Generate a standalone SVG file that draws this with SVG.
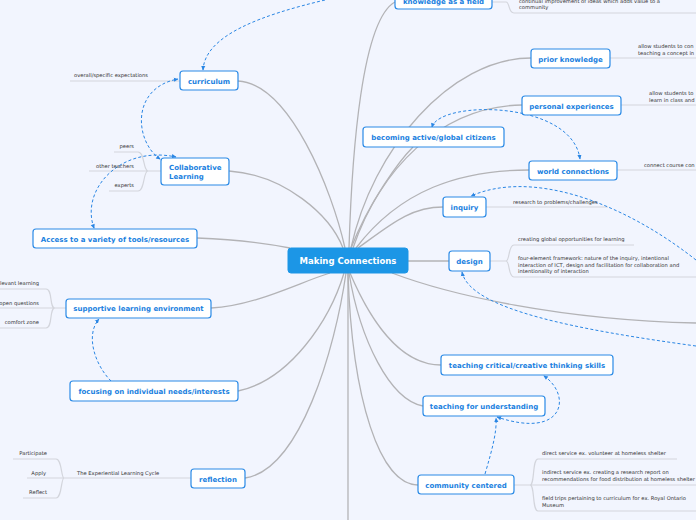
<svg xmlns="http://www.w3.org/2000/svg" width="696" height="520" viewBox="0 0 696 520">
<defs>
<style>
.bg{fill:#f2f5fe}
.node rect{fill:#ffffff;stroke:#2a8ae6;stroke-width:1.2}
.node text{font-family:"DejaVu Sans",Verdana,sans-serif;font-weight:bold;font-size:7px;fill:#1a7fe0;text-anchor:middle}
.root rect{fill:#1c96e6;stroke:#1c96e6}
.root text{font-family:"DejaVu Sans",Verdana,sans-serif;font-weight:bold;font-size:8.5px;fill:#ffffff;text-anchor:middle}
.main path{fill:none;stroke:#b3b3b6;stroke-width:1.3}
.leafline{fill:none;stroke:#d3d5dc;stroke-width:1.2}
.leaf{font-family:"DejaVu Sans",Verdana,sans-serif;font-size:5.2px;fill:#333333}
.rel{fill:none;stroke:#2a86e4;stroke-width:1;stroke-dasharray:3 2.2}
</style>
<marker id="ah" viewBox="0 0 6 6" refX="5" refY="3" markerWidth="5" markerHeight="5" orient="auto">
<path d="M0,0.5 L5.5,3 L0,5.5 Z" fill="#2a86e4"/>
</marker>
<marker id="at" viewBox="0 0 6 6" refX="1" refY="3" markerWidth="5" markerHeight="5" orient="auto">
<path d="M5.5,0.5 L0,3 L5.5,5.5 Z" fill="#2a86e4"/>
</marker>
</defs>
<rect class="bg" x="0" y="0" width="696" height="520"/>

<g id="connectors">
<g class="main">
<path d="M349 248 C352 150 362 20 395 2"/>
<path d="M238 81 C290 84 332 190 345 248"/>
<path d="M229 171 C285 175 330 215 343 248"/>
<path d="M197 238 Q250 240 290 248"/>
<path d="M211 308 C255 306 300 282 330 273"/>
<path d="M238 391 C290 380 330 320 344 273"/>
<path d="M245 478 C300 470 335 350 346 273"/>
<path d="M348 273 L348 520"/>
<path d="M351 248 C372 150 450 58 531 58"/>
<path d="M353 248 C380 170 440 106 522 105"/>
<path d="M351 248 C370 200 400 160 413 147"/>
<path d="M356 248 C400 190 460 170 529 170"/>
<path d="M358 248 C390 225 410 207 443 207"/>
<path d="M408 261 L449 261"/>
<path d="M392 273 C450 295 560 320 696 323"/>
<path d="M350 273 C370 320 400 365 441 365"/>
<path d="M349 273 C360 340 390 400 423 406"/>
<path d="M348 273 C352 400 380 485 418 485"/>
</g>
<g>
<path class="leafline" d="M180 81 L70 81"/>
<path class="leafline" d="M161 171 L148 171 C143 171 145 152 138 152 L114 152 M148 171 L89 171 M148 171 C143 171 145 191 138 191 L109 191"/>
<path class="leafline" d="M66 308 L55 308 C49 308 53 289 46 289 L0 289 M55 308 L0 308 M55 308 C49 308 53 328 46 328 L0 328"/>
<path class="leafline" d="M191 478 L64 478 C61 478 62 459 56 459 L13 459 M64 478 L27 478 M64 478 C61 478 62 498 56 498 L23 498"/>
<path class="leafline" d="M492 2 L506 2 C510 2 508 13 514 13 L696 13"/>
<path class="leafline" d="M610 58 L696 58"/>
<path class="leafline" d="M621 105 L696 105"/>
<path class="leafline" d="M617 170 L696 170"/>
<path class="leafline" d="M486 207 L608 207"/>
<path class="leafline" d="M490 261 L506 261 C510 261 508 245 514 245 L634 245 M506 261 C510 261 508 277 514 277 L696 277"/>
<path class="leafline" d="M514 485 L530 485 C535 485 532 459 538 459 L677 459 M530 485 L696 485 M530 485 C535 485 532 511 538 511 L696 511"/>
</g>
<g>
<path class="rel" d="M325 0 C262 15 205 35 203 70" marker-end="url(#ah)"/>
<path class="rel" d="M160 159 C135 142 130 88 178 79" marker-start="url(#at)" marker-end="url(#ah)"/>
<path class="rel" d="M94 228 C80 190 120 145 176 157" marker-start="url(#at)" marker-end="url(#ah)"/>
<path class="rel" d="M111 381 C95 365 85 335 99 319" marker-end="url(#ah)"/>
<path class="rel" d="M432 127 C440 100 572 100 580 159" marker-start="url(#at)" marker-end="url(#ah)"/>
<path class="rel" d="M696 260 C620 200 530 170 471 196" marker-end="url(#ah)"/>
<path class="rel" d="M696 346 C580 330 470 310 462 272" marker-end="url(#ah)"/>
<path class="rel" d="M544 376 C572 395 565 440 497 417" marker-start="url(#at)" marker-end="url(#ah)"/>
<path class="rel" d="M485 474 C492 450 497 432 496 418" marker-end="url(#ah)"/>
</g>
</g>

<g id="leaves">
<text class="leaf" x="74" y="77">overall/specific expectations</text>
<text class="leaf" x="134" y="148" text-anchor="end">peers</text>
<text class="leaf" x="134" y="168" text-anchor="end">other teachers</text>
<text class="leaf" x="134" y="187" text-anchor="end">experts</text>
<text class="leaf" x="39" y="285" text-anchor="end">relevant learning</text>
<text class="leaf" x="39" y="305" text-anchor="end">open questions</text>
<text class="leaf" x="39" y="324" text-anchor="end">comfort zone</text>
<text class="leaf" x="47" y="455" text-anchor="end">Participate</text>
<text class="leaf" x="46" y="475" text-anchor="end">Apply</text>
<text class="leaf" x="47" y="494" text-anchor="end">Reflect</text>
<text class="leaf" x="77" y="475">The Experiential Learning Cycle</text>
<text class="leaf" x="519" y="3">continual improvement of ideas which adds value to a</text>
<text class="leaf" x="519" y="9">community</text>
<text class="leaf" x="638" y="48">allow students to con</text>
<text class="leaf" x="638" y="55">teaching a concept in</text>
<text class="leaf" x="649" y="95">allow students to</text>
<text class="leaf" x="649" y="102">learn in class and</text>
<text class="leaf" x="644" y="167">connect course con</text>
<text class="leaf" x="513" y="204">research to problems/challenges</text>
<text class="leaf" x="518" y="241">creating global opportunities for learning</text>
<text class="leaf" x="518" y="260">four-element framework: nature of the inquiry, intentional</text>
<text class="leaf" x="518" y="267">interaction of ICT, design and facilitation for collaboration and</text>
<text class="leaf" x="518" y="273">intentionality of interaction</text>
<text class="leaf" x="542" y="455">direct service ex. volunteer at homeless shelter</text>
<text class="leaf" x="542" y="474">indirect service ex. creating a research report on</text>
<text class="leaf" x="542" y="481">recommendations for food distribution at homeless shelter</text>
<text class="leaf" x="542" y="500">field trips pertaining to curriculum for ex. Royal Ontario</text>
<text class="leaf" x="542" y="507">Museum</text>
</g>

<g id="n-root" class="root"><rect x="288" y="248" width="120" height="25" rx="3"/><text x="348" y="264">Making Connections</text></g>
<g id="n-knowledge" class="node"><rect x="395" y="-6" width="97" height="15" rx="3"/><text x="443.5" y="3.5">knowledge as a field</text></g>
<g id="n-curriculum" class="node"><rect x="180" y="71" width="58" height="19" rx="3"/><text x="209" y="83.5">curriculum</text></g>
<g id="n-collab" class="node"><rect x="161" y="158" width="68" height="27" rx="3"/><text x="169" y="169.5" text-anchor="start" style="text-anchor:start">Collaborative</text><text x="169" y="178.5" style="text-anchor:start">Learning</text></g>
<g id="n-access" class="node"><rect x="33" y="229" width="164" height="19" rx="3"/><text x="115" y="241.5">Access to a variety of tools/resources</text></g>
<g id="n-supportive" class="node"><rect x="66" y="299" width="145" height="19" rx="3"/><text x="138.5" y="311">supportive learning environment</text></g>
<g id="n-focusing" class="node"><rect x="70" y="381" width="168" height="20" rx="3"/><text x="154" y="394">focusing on individual needs/interests</text></g>
<g id="n-reflection" class="node"><rect x="191" y="469" width="54" height="19" rx="3"/><text x="218" y="481.5">reflection</text></g>
<g id="n-prior" class="node"><rect x="531" y="49" width="79" height="19" rx="3"/><text x="570.5" y="61.5">prior knowledge</text></g>
<g id="n-personal" class="node"><rect x="522" y="96" width="99" height="19" rx="3"/><text x="571.5" y="108.5">personal experiences</text></g>
<g id="n-becoming" class="node"><rect x="363" y="127" width="141" height="20" rx="3"/><text x="433.5" y="140">becoming active/global citizens</text></g>
<g id="n-world" class="node"><rect x="529" y="161" width="88" height="19" rx="3"/><text x="573" y="173.5">world connections</text></g>
<g id="n-inquiry" class="node"><rect x="443" y="197" width="43" height="20" rx="3"/><text x="464.5" y="210">inquiry</text></g>
<g id="n-design" class="node"><rect x="449" y="251" width="41" height="20" rx="3"/><text x="469.5" y="264">design</text></g>
<g id="n-critical" class="node"><rect x="441" y="355" width="172" height="20" rx="3"/><text x="527" y="368">teaching critical/creative thinking skills</text></g>
<g id="n-understanding" class="node"><rect x="423" y="396" width="122" height="20" rx="3"/><text x="484" y="409">teaching for understanding</text></g>
<g id="n-community" class="node"><rect x="418" y="475" width="96" height="19" rx="3"/><text x="466" y="487.5">community centered</text></g>
</svg>
